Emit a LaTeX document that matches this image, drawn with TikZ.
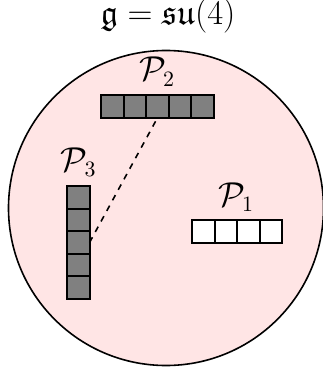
\documentclass[tikz,border=0pt]{standalone}
\usepackage{amssymb}
\begin{document}
\begin{tikzpicture}[x=0.5pt,y=-0.5pt,
  algebra/.style={circle, draw=black, line width=0.8pt, fill=red!10, minimum size=157.5pt, inner sep=0pt},
  cellbase/.style={draw=black, line width=1pt, minimum size=11.25pt, inner sep=0pt, outer sep=0pt},
  graycell/.style={cellbase, fill=gray},
  whitecell/.style={cellbase, fill=white},
  lbl/.style={anchor=base, inner sep=0pt, font=\fontsize{16}{19}\selectfont},
  link/.style={dashed, line width=0.8pt}]
\useasboundingbox (0,0) rectangle (322,374);
\node[algebra] (alg) at (166,208) {};
\node[anchor=base, inner sep=0pt, font=\LARGE] (title) at (168,25) {$\mathfrak{g} = \mathfrak{su}(4)$};
\foreach \i in {1,...,5} {
  \node[graycell] (p2c\i) at ({157.4+(\i-3)*22.5},106.7) {};
  \node[graycell] (p3c\i) at (78.3,{242.5+(\i-3)*22.5}) {};
}
\foreach \i in {1,...,4} {
  \node[whitecell] (p1c\i) at ({237.2+(\i-2.5)*22.5},231.3) {};
}
\node[lbl] (l2) at (157,81) {$\mathcal{P}_2$};
\node[lbl] (l3) at (78.5,171.5) {$\mathcal{P}_3$};
\node[lbl] (l1) at (236,206.5) {$\mathcal{P}_1$};
\draw[link] (p3c3.east) -- (p2c3.south);
\end{tikzpicture}
\end{document}
